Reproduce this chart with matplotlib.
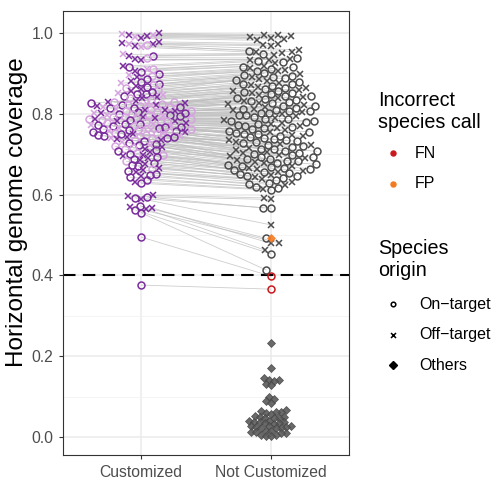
import numpy as np
import matplotlib
matplotlib.use("Agg")
import matplotlib.pyplot as plt
from matplotlib.collections import LineCollection

plt.rcParams['font.family'] = ['Liberation Sans', 'DejaVu Sans']

categories = ["Customized", "Not Customized"]

# paired horizontal genome coverage (same species, two conditions)
customized = [
    0.999, 0.998, 0.996, 0.994, 0.992, 0.990, 0.987,
    0.978, 0.976, 0.974, 0.972, 0.970, 0.968, 0.965,
    0.947, 0.944, 0.942, 0.939, 0.936, 0.933,
    0.918, 0.915, 0.912, 0.910, 0.907, 0.904,
    0.898, 0.895, 0.893, 0.890, 0.887,
    0.880, 0.878, 0.876, 0.874, 0.872, 0.870, 0.867, 0.864, 0.861,
    0.858, 0.856, 0.854, 0.852, 0.850, 0.848, 0.846, 0.844, 0.842, 0.840, 0.838, 0.835, 0.832,
    0.830, 0.829, 0.828, 0.827, 0.826, 0.825, 0.824, 0.823, 0.822, 0.821,
    0.820, 0.819, 0.818, 0.817, 0.816, 0.815, 0.814, 0.813, 0.812, 0.810,
    0.809, 0.808, 0.807, 0.806, 0.805, 0.804, 0.803, 0.802, 0.801, 0.800, 0.799, 0.798,
    0.797, 0.796, 0.795, 0.794, 0.793, 0.792, 0.791, 0.790, 0.789, 0.788, 0.787, 0.786,
    0.785, 0.784, 0.783, 0.782, 0.781, 0.780, 0.779, 0.778, 0.777, 0.776, 0.775, 0.774,
    0.773, 0.772, 0.771, 0.770, 0.769, 0.768, 0.767, 0.766, 0.765, 0.764, 0.763, 0.762,
    0.761, 0.760, 0.759, 0.758, 0.757, 0.756, 0.755, 0.754, 0.753, 0.752, 0.751, 0.750,
    0.749, 0.748, 0.747, 0.746, 0.745, 0.744, 0.743, 0.742, 0.741, 0.740, 0.739, 0.738,
    0.736, 0.734, 0.732, 0.730, 0.728, 0.726, 0.724, 0.722, 0.720, 0.718, 0.716, 0.714, 0.712, 0.710,
    0.707, 0.705, 0.703, 0.701, 0.699, 0.697, 0.695, 0.693,
    0.690, 0.688, 0.685, 0.682, 0.679, 0.676, 0.673,
    0.670, 0.667, 0.664, 0.661, 0.658,
    0.655, 0.652, 0.649, 0.646, 0.643,
    0.636, 0.632, 0.628,
    0.598, 0.596, 0.594, 0.592, 0.590, 0.572, 0.570, 0.567, 0.565, 0.562,
    0.555, 0.495, 0.376,
]

not_customized = [
    0.996, 0.994, 0.992, 0.990, 0.988, 0.985, 0.982,
    0.974, 0.971, 0.968,
    0.958, 0.956, 0.954, 0.952, 0.950, 0.948, 0.946,
    0.938, 0.936, 0.934, 0.932, 0.930, 0.928, 0.926,
    0.919, 0.917, 0.915, 0.913, 0.911, 0.909, 0.907, 0.905,
    0.900, 0.898, 0.896, 0.894, 0.892, 0.890, 0.888, 0.886, 0.884, 0.882,
    0.879, 0.877, 0.875, 0.873, 0.871, 0.869, 0.867, 0.865, 0.863, 0.861,
    0.859, 0.857, 0.856, 0.854, 0.852, 0.851, 0.849, 0.847, 0.845, 0.844, 0.842, 0.840, 0.838, 0.836,
    0.834, 0.832, 0.831, 0.829, 0.827, 0.826, 0.824, 0.822, 0.820, 0.819, 0.817, 0.815, 0.813, 0.812,
    0.810, 0.809, 0.807, 0.806, 0.804, 0.802, 0.801, 0.799,
    0.797, 0.796, 0.794, 0.792, 0.790, 0.788, 0.786, 0.784,
    0.783, 0.781, 0.780, 0.778, 0.776, 0.775, 0.773, 0.771,
    0.769, 0.768, 0.766, 0.764, 0.762, 0.760, 0.758, 0.756,
    0.755, 0.753, 0.751, 0.750, 0.748, 0.746, 0.744, 0.742,
    0.740, 0.738, 0.736, 0.734, 0.732, 0.730, 0.729, 0.727,
    0.725, 0.724, 0.722, 0.720, 0.718, 0.716, 0.714, 0.712, 0.711, 0.709, 0.707, 0.705, 0.704, 0.702,
    0.701, 0.699, 0.697, 0.695, 0.694, 0.692, 0.690, 0.688, 0.687, 0.685, 0.684, 0.682,
    0.681, 0.679, 0.677, 0.675, 0.674, 0.672, 0.670, 0.668, 0.667, 0.665, 0.664, 0.663,
    0.661, 0.659, 0.657, 0.655, 0.653, 0.651, 0.649, 0.647, 0.646,
    0.644, 0.641, 0.638, 0.635, 0.632, 0.629, 0.626,
    0.623, 0.620, 0.617, 0.614, 0.611,
    0.592, 0.588, 0.567, 0.566, 0.525, 0.492, 0.481, 0.479, 0.463, 0.453, 0.413, 0.398, 0.366,
]

# species origin per pair: o = On-target, x = Off-target
origin = ("xxxxxxx" "xxxxoxx" "xoxoxx" "xooxxo" "oxoxo" "xoxooxoox" "oxoxooxoxoxox"
          "oxooxoxooxoxooxooxox" "xooxooxoxooxooxooxoxooxo" "ooxoxooxooxoxooxoooxoxoo"
          "oxooxooxoxooxooxooxoxoox" "xooxooxooxoxoo" "oxooxoxo" "xoxooxo" "oxoxo"
          "xooxo" "oxo" "xxooxoxxxoooo")

# colour shade of the customized points: d = dark, l = light
shade = ("dldldld" "ddldldl" "lddldd" "ddlldd" "dlldd" "ddldlddld" "lddlddlddldld"
         "ldlddlldldldldlddlld" "dlldldlddldlldldldldlldl" "lddldlldldldldlldddldlld"
         "dlldldldlldldldldlddldld" "dldlddldldldld" "ddlddldd" "dddlddd" "ddldd"
         "ddddd" "ddd" "ddddddddddddd")

# "Others" species (Not Customized only)
others = [
    0.493,
    0.233, 0.170, 0.145, 0.142, 0.140, 0.138, 0.132, 0.128,
    0.100, 0.095, 0.088, 0.084,
    0.066, 0.064, 0.062, 0.061, 0.060, 0.058,
    0.052, 0.050, 0.049, 0.048, 0.047, 0.046,
    0.040, 0.039, 0.038, 0.037, 0.036, 0.035, 0.034, 0.033,
    0.028, 0.027, 0.026, 0.025, 0.024, 0.023, 0.022, 0.021,
    0.016, 0.015, 0.013, 0.012, 0.011, 0.010,
    0.006, 0.004, 0.003, 0.002,
]

false_negative_values = [0.398, 0.366]
false_positive_values = [0.493]

yticks = [0.0, 0.2, 0.4, 0.6, 0.8, 1.0]
ytick_labels = ["0.0", "0.2", "0.4", "0.6", "0.8", "1.0"]
threshold = 0.4

assert len(customized) == len(not_customized) == len(origin) == len(shade), (
    len(customized), len(not_customized), len(origin), len(shade))

# ---------------------------------------------------------------------------
W, H = 500, 483
fig = plt.figure(figsize=(W / 100, H / 100), dpi=100)
ax = fig.add_axes([63 / W, 28 / H, 286 / W, 444 / H])
ax.set_xlim(0.4, 2.6)
ax.set_ylim(-0.0446, 1.0545)

DARK_PURPLE = "#7B2D9E"
LIGHT_PURPLE = "#D6A2E0"
GREY = "#4D4D4D"
FN_COL = "#CB181D"
FP_COL = "#F47A20"

# pixel scales from the axes transform
p0 = ax.transData.transform((0, 0))
p1 = ax.transData.transform((1, 1))
sx, sy = p1[0] - p0[0], p1[1] - p0[1]


def swarm(ypx, d):
    ypx = np.asarray(ypx, float)
    xs = np.zeros(len(ypx))
    placed = []
    for i in np.argsort(ypx, kind="stable"):
        y = ypx[i]
        neigh = [(xs[j], ypx[j]) for j in placed if abs(ypx[j] - y) < d]
        cands = [0.0]
        for xj, yj in neigh:
            dx = np.sqrt(d * d - (yj - y) ** 2)
            cands += [xj - dx, xj + dx]
        cands.sort(key=lambda c: (abs(c), c))
        for c in cands:
            if all((c - xj) ** 2 + (yj - y) ** 2 >= d * d - 1e-6 for xj, yj in neigh):
                xs[i] = c
                break
        placed.append(i)
    return xs


D_CUST = 6.4
D_NC = 7.6
D_OTHERS = 5.2
cust = np.array(customized)
nc = np.array(not_customized)
oth = np.array(others)
cx = 1 + swarm(cust * sy, D_CUST) / sx
nx = 2 + swarm(nc * sy, D_NC) / sx
ox = 2 + swarm(oth * sy, D_OTHERS) / sx

# grid / axes
ax.set_xticks([1, 2])
ax.set_xticklabels(categories)
ax.set_yticks(yticks)
ax.set_yticklabels(ytick_labels)
ax.set_yticks([0.1, 0.3, 0.5, 0.7, 0.9], minor=True)
ax.grid(which="major", color="#EBEBEB", lw=1.1, zorder=0)
ax.grid(which="minor", axis="y", color="#F2F2F2", lw=0.6, zorder=0)
ax.set_axisbelow(True)
ax.tick_params(which="major", labelsize=11.3, labelcolor="#4D4D4D", color="#333333",
               length=3, width=0.8, pad=4)
ax.tick_params(which="minor", length=0)
for s in ax.spines.values():
    s.set_color("#333333")
    s.set_linewidth(0.8)

# pair lines
segs = [[(cx[i], cust[i]), (nx[i], nc[i])] for i in range(len(cust))]
ax.add_collection(LineCollection(segs, colors="#BDBDBD", linewidths=0.6, alpha=0.75, zorder=1))

ax.axhline(threshold, color="black", lw=1.5, dashes=(6, 3.5), zorder=2)

# customized points
for i in range(len(cust)):
    col = DARK_PURPLE if shade[i] == "d" else LIGHT_PURPLE
    if origin[i] == "o":
        ax.plot(cx[i], cust[i], marker="o", ms=5, mfc="none", mec=col, mew=1.1, ls="none", zorder=3)
    else:
        ax.plot(cx[i], cust[i], marker="x", ms=5, mec=col, mew=1.1, ls="none", zorder=3)

# not customized points
for i in range(len(nc)):
    col = FN_COL if nc[i] in false_negative_values else GREY
    if origin[i] == "o":
        ax.plot(nx[i], nc[i], marker="o", ms=5, mfc="none", mec=col, mew=1.1, ls="none", zorder=3)
    else:
        ax.plot(nx[i], nc[i], marker="x", ms=5, mec=col, mew=1.1, ls="none", zorder=3)

for i in range(len(oth)):
    col = FP_COL if oth[i] in false_positive_values else "#5A5A5A"
    ax.plot(ox[i], oth[i], marker="D", ms=4.0, mfc=col, mec="#444444" if col != FP_COL else col,
            mew=0.5, alpha=0.9, ls="none", zorder=4 if col == FP_COL else 3)

# ---------------------------------------------------------------------------
# overlay (pixel coordinates) for axis title and legend
lax = fig.add_axes([0, 0, 1, 1])
lax.set_xlim(0, W)
lax.set_ylim(H, 0)
lax.axis("off")

lax.text(17, 212, "Horizontal genome coverage", rotation=90, ha="center", va="center",
         fontsize=17.5, color="black")

TITLE_FS = 14.2
LAB_FS = 11.5
lax.text(378, 100, "Incorrect", fontsize=TITLE_FS, ha="left", va="center")
lax.text(378, 122, "species call", fontsize=TITLE_FS, ha="left", va="center")
lax.plot(393, 153, marker="o", ms=3.6, color=FN_COL, ls="none")
lax.text(415, 153, "FN", fontsize=LAB_FS, ha="left", va="center")
lax.plot(393, 184, marker="o", ms=3.6, color=FP_COL, ls="none")
lax.text(415, 184, "FP", fontsize=LAB_FS, ha="left", va="center")

lax.text(378, 249, "Species", fontsize=TITLE_FS, ha="left", va="center")
lax.text(378, 271, "origin", fontsize=TITLE_FS, ha="left", va="center")
lax.plot(393, 304, marker="o", ms=3.3, mfc="none", mec="black", mew=1.1, ls="none")
lax.text(419, 304, "On\u2212target", fontsize=LAB_FS, ha="left", va="center")
lax.plot(393, 335, marker="x", ms=3.6, mec="black", mew=1.1, ls="none")
lax.text(419, 335, "Off\u2212target", fontsize=LAB_FS, ha="left", va="center")
lax.plot(393, 365, marker="D", ms=3.8, color="black", ls="none")
lax.text(419, 365, "Others", fontsize=LAB_FS, ha="left", va="center")

fig.savefig("out.png", dpi=100, facecolor="white")
